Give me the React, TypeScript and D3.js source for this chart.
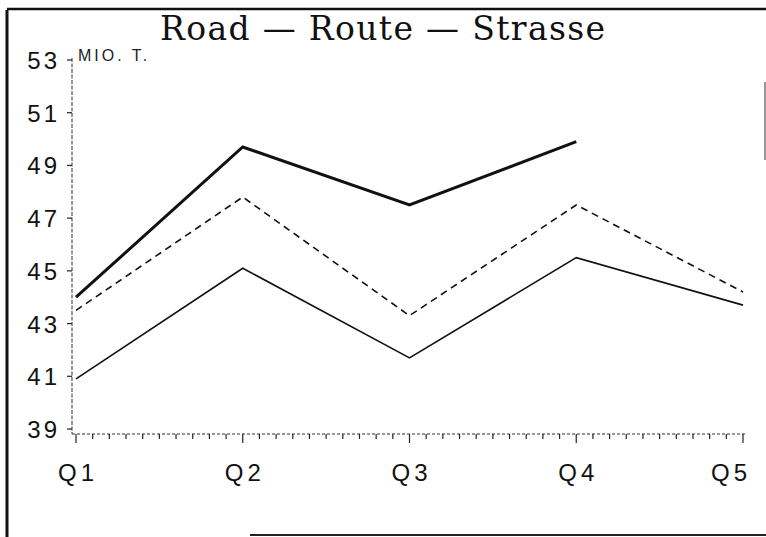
import React from 'react'
import * as d3 from 'd3'

const quarters = ['Q1', 'Q2', 'Q3', 'Q4', 'Q5']
const yTicks = [39, 41, 43, 45, 47, 49, 51, 53]
const seriesThick = [44.0, 49.7, 47.5, 49.9]
const seriesDashed = [43.5, 47.8, 43.3, 47.5, 44.2]
const seriesThin = [40.9, 45.1, 41.7, 45.5, 43.7]

const W = 766
const H = 537

export default function App() {
  const x = d3.scalePoint<string>().domain(quarters).range([76, 743])
  const y = d3.scaleLinear().domain([39, 53]).range([429, 60])
  const line = d3
    .line<number>()
    .x((_, i) => x(quarters[i]) as number)
    .y((d) => y(d))

  // minor ticks: 10 per quarter interval
  const step = (x('Q2')! - x('Q1')!) / 10
  const minor = d3.range(0, 41).map((i) => x('Q1')! + i * step)
  const axisY = 434

  const tickFont = "'Liberation Sans', Arial, sans-serif"

  return (
    <div style={{ position: 'fixed', left: 0, top: 0 }}>
      <svg width={W} height={H} style={{ display: 'block', background: '#fff' }}>
        {/* frame */}
        <line x1={7} x2={7} y1={10} y2={H} stroke="#111" strokeWidth={3} />
        <line x1={7} x2={W} y1={9} y2={9} stroke="#111" strokeWidth={2.5} />
        <line x1={W - 1} x2={W - 1} y1={82} y2={160} stroke="#777" strokeWidth={1.5} />
        <line x1={250} x2={W} y1={535} y2={535} stroke="#222" strokeWidth={2} />

        {/* title */}
        <text
          x={160}
          y={40}
          fontFamily="'DejaVu Serif', 'Liberation Serif', serif"
          fontSize={33}
          textLength={445}
          lengthAdjust="spacing"
          fill="#111"
        >
          Road — Route — Strasse
        </text>
        <text
          x={78}
          y={61}
          fontFamily={tickFont}
          fontSize={16}
          letterSpacing={3}
          fill="#222"
        >
          MIO. T.
        </text>

        {/* y axis */}
        <line x1={72} x2={72} y1={58} y2={axisY} stroke="#333" strokeWidth={1} strokeDasharray="4 1.5" />
        {yTicks.map((t) => (
          <g key={t}>
            <line x1={67} x2={72} y1={y(t)} y2={y(t)} stroke="#222" strokeWidth={1.2} />
            <text
              x={60}
              y={y(t) + 9}
              textAnchor="end"
              fontFamily={tickFont}
              fontSize={24}
              letterSpacing={3}
              fill="#111"
            >
              {t}
            </text>
          </g>
        ))}

        {/* x axis */}
        <line x1={72} x2={745} y1={axisY} y2={axisY} stroke="#333" strokeWidth={1} strokeDasharray="3 2" />
        {minor.map((mx, i) => (
          <line
            key={i}
            x1={mx}
            x2={mx}
            y1={axisY}
            y2={i % 10 === 0 ? axisY + 9 : axisY + 5}
            stroke="#222"
            strokeWidth={1.2}
          />
        ))}
        {quarters.map((q) => (
          <text
            key={q}
            x={(x(q) as number) + (q === 'Q5' ? -12 : 2)}
            y={481}
            textAnchor="middle"
            fontFamily={tickFont}
            fontSize={24}
            letterSpacing={4}
            fill="#111"
          >
            {q}
          </text>
        ))}

        {/* series */}
        <path d={line(seriesThin) || ''} fill="none" stroke="#111" strokeWidth={1.6} />
        <path d={line(seriesDashed) || ''} fill="none" stroke="#111" strokeWidth={1.6} strokeDasharray="7 5" />
        <path d={line(seriesThick) || ''} fill="none" stroke="#111" strokeWidth={3} />
      </svg>
    </div>
  )
}
